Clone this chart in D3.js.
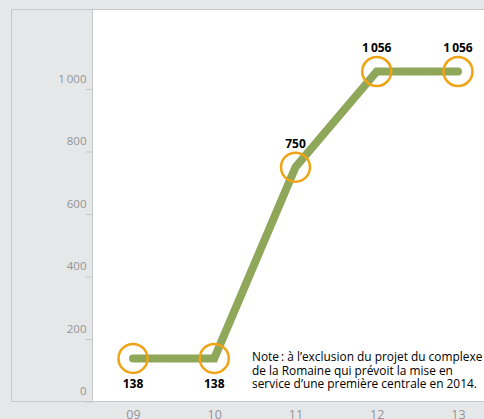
<!DOCTYPE html>
<html>
<head>
<meta charset="utf-8">
<script src="https://cdn.jsdelivr.net/npm/d3@7"></script>
<style>
  body { margin: 0; background: #e6e7e8; }
  svg { display: block; font-family: "Open Sans", sans-serif; }
</style>
</head>
<body>
<div id="chart-area"></div>
<script>
var years = ["09", "10", "11", "12", "13"];
var values = [138, 138, 750, 1056, 1056];
var valueLabels = ["138", "138", "750", "1\u2009056", "1\u2009056"];
var labelBelow = [true, true, false, false, false];
var yTicks = [0, 200, 400, 600, 800, 1000];
var noteLines = [
    "Note\u2009: à l’exclusion du projet du complexe",
    "de la Romaine qui prévoit la mise en",
    "service d’une première centrale en 2014."
];

var width = 484, height = 419;
var box = {left: 11.5, top: 9.5, bottom: 401.5, plotLeft: 92.5};

var svg = d3.select("#chart-area").append("svg")
    .attr("width", width)
    .attr("height", height)

svg.append("rect")
    .attr("width", width)
    .attr("height", height)
    .attr("fill", "#e6e7e8")

// outer frame
svg.append("path")
    .attr("fill", "none")
    .attr("stroke", "#c5c7c9")
    .attr("d", "M" + width + "," + box.top + "H" + box.left + "V" + box.bottom + "H" + width)

// white plot area
svg.append("rect")
    .attr("x", box.plotLeft)
    .attr("y", box.top + 0.5)
    .attr("width", width - box.plotLeft)
    .attr("height", box.bottom - box.top - 1)
    .attr("fill", "#fff")
svg.append("line")
    .attr("x1", box.plotLeft).attr("x2", box.plotLeft)
    .attr("y1", box.top).attr("y2", box.bottom)
    .attr("stroke", "#c5c7c9")

var x = d3.scalePoint().domain(years).range([133, 458]);
var y = d3.scaleLinear().domain([0, 1000]).range([401.5, 89]);

// y axis: short ticks, labels above ticks
var yAxisCall = d3.axisLeft(y)
    .tickValues(yTicks)
    .tickSize(7)
    .tickFormat((d) => {return d3.format(",")(d).replace(",", "\u2009")})
var yAxis = svg.append("g")
    .attr("class", "y axis")
    .attr("transform", "translate(" + box.plotLeft + ", 0)")
    .call(yAxisCall)
yAxis.select(".domain").remove()
yAxis.selectAll(".tick line").attr("stroke", "#c5c7c9")
yAxis.selectAll(".tick text")
    .attr("x", -6)
    .attr("y", -7)
    .attr("dy", 0)
    .attr("fill", "#939598")
    .style("font-size", "11.5px")
    .style("font-family", "'Open Sans', sans-serif")

// x axis labels in bottom band (cut by the bottom edge, as in the print)
var xAxisCall = d3.axisBottom(x).tickSize(0).tickPadding(0)
var xAxis = svg.append("g")
    .attr("class", "x axis")
    .attr("transform", "translate(0, " + box.bottom + ")")
    .call(xAxisCall)
xAxis.select(".domain").remove()
xAxis.selectAll(".tick text")
    .attr("y", 17)
    .attr("dy", 0)
    .attr("fill", "#939598")
    .style("font-size", "12.5px")
    .style("font-family", "'Open Sans', sans-serif")

var data = years.map((d, i) => {return {year: d, value: values[i], label: valueLabels[i], below: labelBelow[i]}})

var line = d3.line()
    .x((d) => {return x(d.year)})
    .y((d) => {return y(d.value)})

svg.append("path")
    .attr("fill", "none")
    .attr("stroke", "#8ea758")
    .attr("stroke-width", 8)
    .attr("stroke-linecap", "round")
    .attr("d", line(data))

svg.selectAll("circle.pt")
    .data(data)
    .enter().append("circle")
    .attr("class", "pt")
    .attr("cx", (d) => {return x(d.year)})
    .attr("cy", (d) => {return y(d.value)})
    .attr("r", 14.5)
    .attr("fill", "none")
    .attr("stroke", "#f0a314")
    .attr("stroke-width", 2.5)

svg.selectAll("text.val")
    .data(data)
    .enter().append("text")
    .attr("class", "val")
    .attr("x", (d) => {return x(d.year)})
    .attr("y", (d) => {return y(d.value) + (d.below ? 30 : -19.5)})
    .attr("text-anchor", "middle")
    .attr("fill", "#000")
    .style("font-size", "12px")
    .style("font-weight", "bold")
    .text((d) => {return d.label})

var note = svg.append("text")
    .attr("x", 252)
    .attr("y", 361)
    .attr("fill", "#000")
    .style("font-size", "11.9px")
note.selectAll("tspan")
    .data(noteLines)
    .enter().append("tspan")
    .attr("x", 252)
    .attr("dy", (d, i) => {return i == 0 ? 0 : 13.5})
    .text((d) => {return d})
</script>
</body>
</html>
